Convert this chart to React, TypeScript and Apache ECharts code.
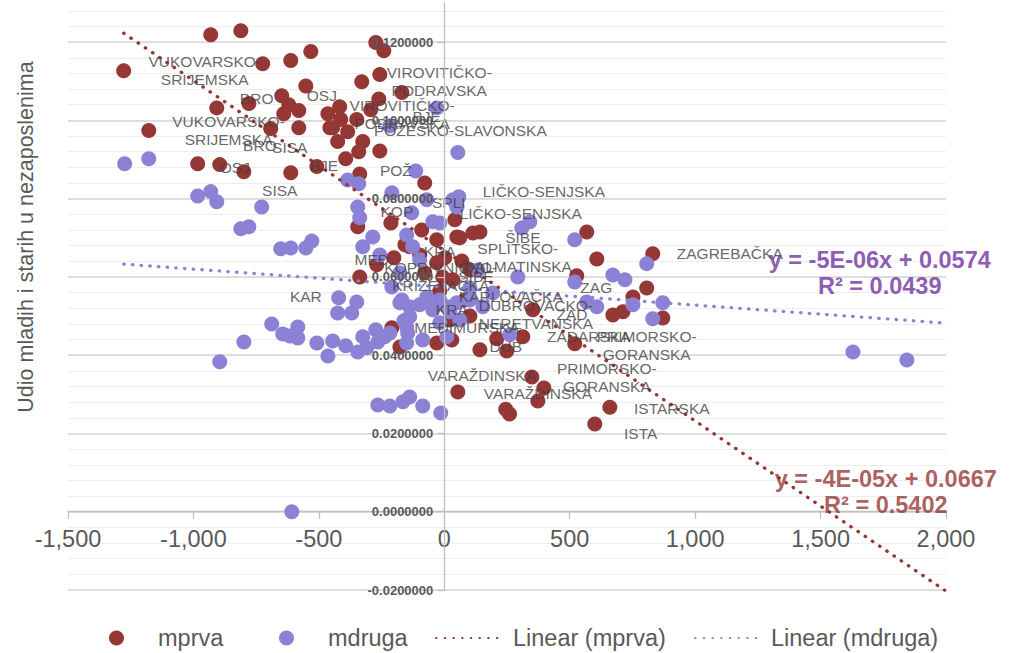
import { useEffect, useRef } from 'react';
import * as echarts from 'echarts';

const FONT = 'Liberation Sans, Arial, sans-serif';
const RED = '#953735';
const PURPLE = '#8B82D6';
const EQ_PURPLE = '#7030A0';

// axis ranges
const xRange = [-1500, 2000];
const yRange = [-0.02, 0.13];
// y tick settings
const yMajorTicks = [-0.02, 0, 0.02, 0.04, 0.06, 0.08, 0.1, 0.12];

// series mprva [x, y]
const mprva: [number, number][] = [
  [-1278, 0.1127], [-1178, 0.0974], [-931, 0.1219], [-811, 0.1229], [-724, 0.1145], [-612, 0.1153],
  [-532, 0.1176], [-552, 0.1088], [-648, 0.1063], [-779, 0.1043], [-907, 0.1032], [-620, 0.104],
  [-640, 0.1017], [-580, 0.1025], [-692, 0.0979], [-580, 0.0981], [-983, 0.0889], [-895, 0.0887],
  [-799, 0.0869], [-612, 0.0866], [-508, 0.0882], [-464, 0.1017], [-456, 0.0981],
  [-273, 0.1199], [-241, 0.1178], [-257, 0.1117], [-329, 0.1099], [-261, 0.1055], [-169, 0.1071],
  [-417, 0.1035], [-413, 0.1002], [-349, 0.1002], [-293, 0.1027], [-445, 0.0981], [-385, 0.0971],
  [-425, 0.0946], [-325, 0.0946], [-341, 0.092], [-257, 0.0922], [-393, 0.0902], [-337, 0.0863],
  [-78, 0.084],
  [-345, 0.0728], [-213, 0.0738], [-90, 0.072], [-30, 0.0695], [50, 0.0702], [114, 0.0712],
  [142, 0.0715], [-201, 0.0649], [-269, 0.0631], [-337, 0.06], [-138, 0.0677], [-30, 0.0636],
  [34, 0.0593], [-209, 0.047], [-30, 0.0431], [30, 0.0439], [-177, 0.0421], [142, 0.0414],
  [42, 0.0746], [62, 0.07],
  [568, 0.0715], [608, 0.0646], [831, 0.0659], [528, 0.0603], [807, 0.0572], [752, 0.0549],
  [672, 0.0503], [712, 0.0511], [871, 0.0495], [520, 0.0429], [313, 0.0447], [353, 0.0516],
  [209, 0.0442], [249, 0.0411], [22, 0.049], [-6, 0.06], [349, 0.0344], [397, 0.0316],
  [373, 0.0283], [245, 0.0262], [260, 0.025], [660, 0.0267], [600, 0.0224], [54, 0.0306],
  [-157, 0.0682], [-98, 0.0656], [2, 0.0649], [70, 0.0641], [102, 0.0618], [-78, 0.061],
  [-18, 0.0564], [82, 0.0541], [102, 0.05],
];

// series mdruga [x, y]
const mdruga: [number, number][] = [
  [-1274, 0.0889], [-1178, 0.0902], [-983, 0.0807], [-931, 0.0818], [-907, 0.0792], [-728, 0.0779],
  [-811, 0.0723], [-779, 0.0728], [-652, 0.0672], [-612, 0.0674], [-552, 0.0674], [-528, 0.0692],
  [-688, 0.048], [-644, 0.0454], [-616, 0.0449], [-584, 0.0472], [-584, 0.0444], [-799, 0.0434],
  [-895, 0.0383], [-508, 0.0431], [-464, 0.0398], [-445, 0.0436], [-393, 0.0424], [-345, 0.0408],
  [-325, 0.0447], [-309, 0.0419], [-273, 0.0465], [-265, 0.0434], [-237, 0.0447],
  [-421, 0.0547], [-349, 0.0536], [-425, 0.0508], [-369, 0.0508],
  [-265, 0.0273], [-217, 0.027], [-165, 0.0281], [-138, 0.0293], [-86, 0.027], [-14, 0.0252],
  [-608, 0.0],
  [-30, 0.1032], [-217, 0.0986], [54, 0.0918], [-114, 0.0871], [-385, 0.0848], [-341, 0.0838],
  [-209, 0.0815], [58, 0.0805], [34, 0.0797], [-345, 0.0779], [-337, 0.0751], [-130, 0.0764],
  [-46, 0.0741], [-70, 0.0797], [50, 0.0779], [-285, 0.0702], [-150, 0.0707], [-325, 0.0677],
  [-126, 0.0677], [-257, 0.0656], [-209, 0.0574], [-169, 0.0541], [-138, 0.0524], [-18, 0.0738],
  [341, 0.0741], [309, 0.0725], [520, 0.0695], [293, 0.06], [520, 0.0587], [672, 0.0605],
  [720, 0.0593], [807, 0.0634], [568, 0.0536], [608, 0.0524], [752, 0.0529], [871, 0.0534],
  [831, 0.0493], [1629, 0.0408], [1844, 0.0388],
  [261, 0.0452], [134, 0.0618], [193, 0.0559], [154, 0.0524], [-98, 0.0644], [-177, 0.061],
  [-177, 0.0534], [-46, 0.0516], [10, 0.0524], [50, 0.0534], [-138, 0.0498], [-70, 0.0549],
  [-150, 0.0472], [-18, 0.0483], [-217, 0.0457], [-150, 0.0431], [-86, 0.0439], [10, 0.0447],
  [-161, 0.0488], [-146, 0.0457], [62, 0.049], [102, 0.0541], [-98, 0.0529], [22, 0.0511],
  [-18, 0.0541], [102, 0.0572],
];

// linear trendlines (slope, intercept) and their x span
const trendMprva = { slope: -4.35e-5, intercept: 0.0667 };
const trendMdruga = { slope: -4.6e-6, intercept: 0.0574 };
const trendXSpan = [-1278, 2000];

// data labels: [x, y, text] (text centre)
const pointLabels: [number, number, string][] = [
  [-955, 0.1127, 'VUKOVARSKO-\nSRIJEMSKA'],
  [-748, 0.1055, 'BRO'],
  [-488, 0.1063, 'OSJ'],
  [-860, 0.0974, 'VUKOVARSKO-\nSRIJEMSKA'],
  [-735, 0.0937, 'BRO'],
  [-616, 0.0932, 'SISA'],
  [-835, 0.0879, 'OSJ'],
  [-480, 0.0886, 'BJE'],
  [-656, 0.082, 'SISA'],
  [-20, 0.1099, 'VIROVITIČKO-\nPODRAVSKA'],
  [-168, 0.1014, 'VIROVITIČKO-\nPODRAVSKA'],
  [64, 0.0974, 'POŽEŠKO-SLAVONSKA'],
  [-70, 0.1009, 'BJE'],
  [-193, 0.0871, 'POŽ'],
  [-189, 0.0767, 'KOP'],
  [18, 0.0789, 'SPLI'],
  [397, 0.0818, 'LIČKO-SENJSKA'],
  [305, 0.0761, 'LIČKO-SENJSKA'],
  [313, 0.07, 'ŠIBE'],
  [293, 0.0649, 'SPLITSKO-\nDALMATINSKA'],
  [-18, 0.0664, 'KRA'],
  [-289, 0.0644, 'MEĐ'],
  [-14, 0.06, 'KOPRIVNIČKO-\nKRIŽEVAČKA'],
  [126, 0.06, 'ŠIBE'],
  [265, 0.0549, 'KARLOVAČKA'],
  [365, 0.0505, 'DUBROVAČKO-\nNERETVANSKA'],
  [606, 0.0572, 'ZAG'],
  [509, 0.0503, 'ZAD'],
  [30, 0.0516, 'KRA'],
  [90, 0.047, 'MEĐIMURSKA'],
  [245, 0.0421, 'DUB'],
  [576, 0.0449, 'ZADARSKA'],
  [807, 0.0426, 'PRIMORSKO-\nGORANSKA'],
  [150, 0.0347, 'VARAŽDINSKA'],
  [648, 0.0344, 'PRIMORSKO-\nGORANSKA'],
  [373, 0.0303, 'VARAŽDINSKA'],
  [907, 0.0263, 'ISTARSKA'],
  [783, 0.0201, 'ISTA'],
  [1138, 0.0659, 'ZAGREBAČKA'],
  [-552, 0.0549, 'KAR'],
];

// trendline equation labels: [x, y, text]
const eqMdruga: [number, number, string] = [1736, 0.061, 'y = -5E-06x + 0.0574\nR² = 0.0439'];
const eqMprva: [number, number, string] = [1760, 0.005, 'y = -4E-05x + 0.0667\nR² = 0.5402'];

const legendNames = ['mprva', 'mdruga', 'Linear (mprva)', 'Linear (mdruga)'];

// layout of the grid
const GRID = { left: 68, right: 71, top: 3, bottom: 63 };
const W = 1017;
const H = 653;

function trendPoints(t: { slope: number; intercept: number }) {
  return trendXSpan.map((x) => [x, t.intercept + t.slope * x]);
}

export default function App() {
  const ref = useRef<HTMLDivElement>(null);
  useEffect(() => {
    if (!ref.current) return;
    const chart = echarts.init(ref.current, undefined, { renderer: 'svg' });
    const gridW = W - GRID.left - GRID.right;
    const gridH = H - GRID.top - GRID.bottom;
    // axes cross at zero: shift them inward by the distance from the grid edge to zero
    const yAxisShift = -(gridW * (0 - xRange[0])) / (xRange[1] - xRange[0]);
    const xAxisShift = -(gridH * (0 - yRange[0])) / (yRange[1] - yRange[0]);
    const yBase = { type: 'value', min: yRange[0], max: yRange[1] };
    const legendCommon = {
      top: 626,
      padding: 0,
      itemHeight: 15,
      textStyle: { fontSize: 23.5, color: '#595959' },
    };
    chart.setOption({
      animation: false,
      textStyle: { fontFamily: FONT },
      grid: { ...GRID, containLabel: false },
      xAxis: {
        type: 'value',
        min: xRange[0],
        max: xRange[1],
        interval: 500,
        position: 'bottom',
        offset: xAxisShift,
        axisLine: { onZero: false, lineStyle: { color: '#bfbfbf', width: 1.3 } },
        axisTick: { show: true, length: 7, lineStyle: { color: '#bfbfbf', width: 1.3 } },
        axisLabel: {
          fontSize: 23.5,
          color: '#595959',
          margin: 15,
          formatter: (v: number) => v.toLocaleString('en-US'),
        },
        splitLine: { show: false },
      },
      yAxis: [
        {
          ...yBase,
          interval: 0.02,
          position: 'left',
          offset: yAxisShift,
          z: 10,
          axisLine: { show: true, onZero: false, lineStyle: { color: '#bfbfbf', width: 1.3 } },
          axisTick: { show: true, length: 7, lineStyle: { color: '#bfbfbf', width: 1.3 } },
          axisLabel: {
            margin: 11,
            fontSize: 13,
            fontWeight: 'bold',
            color: '#595959',
            showMaxLabel: false,
            formatter: (v: number) =>
              yMajorTicks.some((t) => Math.abs(t - v) < 1e-9) ? v.toFixed(7) : '',
          },
          splitLine: { show: false },
        },
        {
          ...yBase,
          interval: 0.004,
          position: 'right',
          axisLine: { show: false, onZero: false },
          axisTick: { show: false },
          axisLabel: { show: false },
          splitLine: { show: true, showMaxLine: false, lineStyle: { color: '#eeeeee', width: 1.2 } },
        },
        {
          ...yBase,
          interval: 0.02,
          position: 'right',
          axisLine: { show: false, onZero: false },
          axisTick: { show: false },
          axisLabel: { show: false },
          splitLine: { show: true, showMaxLine: false, lineStyle: { color: '#d6d6d6', width: 1.5 } },
        },
      ],
      legend: [
        { ...legendCommon, data: [legendNames[0]], left: 109, itemWidth: 15, textStyle: { ...legendCommon.textStyle, padding: [0, 0, 0, 29] } },
        { ...legendCommon, data: [legendNames[1]], left: 279, itemWidth: 15, textStyle: { ...legendCommon.textStyle, padding: [0, 0, 0, 29] } },
        { ...legendCommon, data: [{ name: legendNames[2], itemStyle: { opacity: 0 } }], left: 435, itemWidth: 64, textStyle: { ...legendCommon.textStyle, padding: [0, 0, 0, 8] } },
        { ...legendCommon, data: [{ name: legendNames[3], itemStyle: { opacity: 0 } }], left: 694, itemWidth: 62, textStyle: { ...legendCommon.textStyle, padding: [0, 0, 0, 9] } },
      ],
      graphic: [
        {
          type: 'text',
          x: 26,
          y: 237,
          rotation: Math.PI / 2,
          style: {
            text: 'Udio mladih i starih u nezaposlenima',
            fontSize: 21.5,
            fontFamily: FONT,
            fill: '#595959',
            align: 'center',
            verticalAlign: 'middle',
          },
        },
      ],
      series: [
        {
          name: 'mprva',
          type: 'scatter',
          symbol: 'circle',
          symbolSize: 15,
          itemStyle: { color: RED, opacity: 1 },
          data: mprva,
          z: 2,
        },
        {
          name: 'mdruga',
          type: 'scatter',
          symbol: 'circle',
          symbolSize: 15,
          itemStyle: { color: PURPLE, opacity: 1 },
          data: mdruga,
          z: 2,
        },
        {
          name: 'Linear (mprva)',
          type: 'line',
          showSymbol: false,
          symbol: 'none',
          data: trendPoints(trendMprva),
          lineStyle: { color: RED, width: 3.3, type: [0.5, 8.2], cap: 'round' },
          itemStyle: { color: RED },
          z: 3,
          silent: true,
        },
        {
          name: 'Linear (mdruga)',
          type: 'line',
          showSymbol: false,
          symbol: 'none',
          data: trendPoints(trendMdruga),
          lineStyle: { color: PURPLE, width: 3.3, type: [0.5, 8.2], cap: 'round' },
          itemStyle: { color: PURPLE },
          z: 3,
          silent: true,
        },
        {
          name: 'labels',
          type: 'scatter',
          symbolSize: 0,
          silent: true,
          z: 5,
          data: pointLabels.map(([x, y, t]) => ({ value: [x, y], name: t })),
          label: {
            show: true,
            position: 'inside',
            formatter: '{b}',
            fontSize: 15.5,
            lineHeight: 18,
            color: '#404040',
            align: 'center',
            verticalAlign: 'middle',
          },
        },
        {
          name: 'equations',
          type: 'scatter',
          symbolSize: 0,
          silent: true,
          z: 6,
          data: [
            { value: [eqMdruga[0], eqMdruga[1]], name: eqMdruga[2], label: { color: EQ_PURPLE } },
            { value: [eqMprva[0], eqMprva[1]], name: eqMprva[2], label: { color: RED } },
          ],
          label: {
            show: true,
            position: 'inside',
            formatter: '{b}',
            fontSize: 23.5,
            fontWeight: 'bold',
            lineHeight: 26,
            align: 'center',
            verticalAlign: 'middle',
          },
        },
      ],
    });
    return () => chart.dispose();
  }, []);
  return (
    <div
      ref={ref}
      style={{ position: 'fixed', left: 0, top: 0, width: W, height: H, background: '#ffffff' }}
    />
  );
}
